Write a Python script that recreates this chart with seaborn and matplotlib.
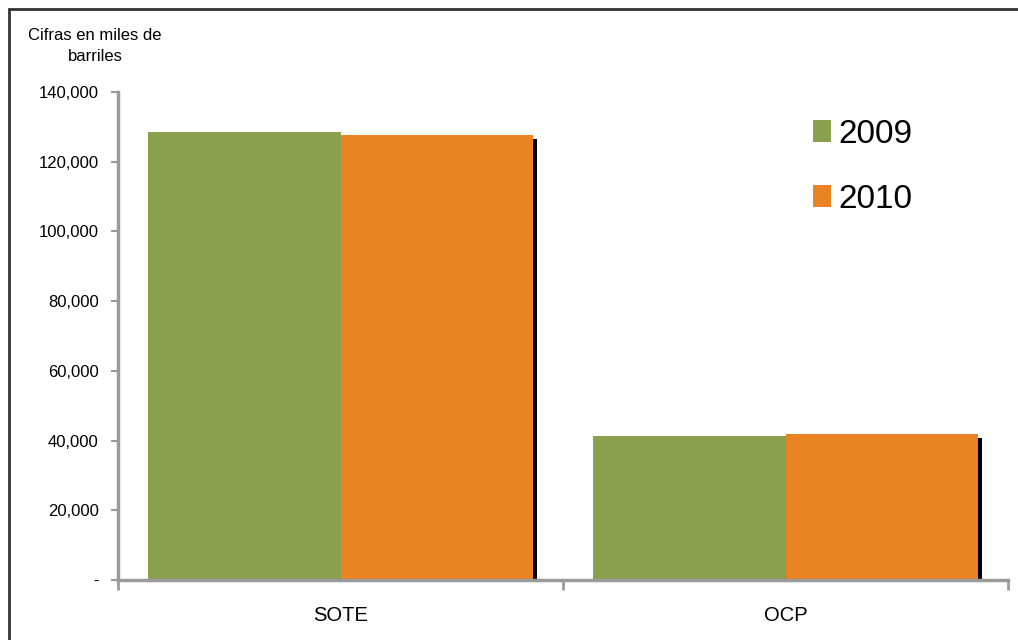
import pandas as pd
import matplotlib
matplotlib.use("Agg")
import matplotlib.pyplot as plt
import matplotlib.patheffects as pe
from matplotlib.patches import Rectangle, Patch
import seaborn as sns

# data (thousands of barrels)
pipelines = ["SOTE", "OCP"]
years = ["2009", "2010"]
values_2009 = [128500, 41300]
values_2010 = [127600, 41900]
y_ticks = [0, 20000, 40000, 60000, 80000, 100000, 120000, 140000]
y_labels = ["-", "20,000", "40,000", "60,000", "80,000", "100,000", "120,000", "140,000"]

colors = {"2009": "#8BA04D", "2010": "#EA8323"}
axis_gray = "#9A9A9A"

df = pd.DataFrame({
    "pipeline": pipelines * 2,
    "year": ["2009"] * len(pipelines) + ["2010"] * len(pipelines),
    "value": values_2009 + values_2010,
})

sns.set_style("white")
plt.rcParams["font.family"] = ["Liberation Sans", "DejaVu Sans"]
plt.rcParams["text.color"] = "black"
plt.rcParams["xtick.labelcolor"] = "black"
plt.rcParams["ytick.labelcolor"] = "black"

fig = plt.figure(figsize=(10.18, 6.40), dpi=100)
ax = fig.add_axes([118 / 1018, 1 - 580 / 640, (1008 - 118) / 1018, (580 - 92) / 640])

sns.barplot(data=df, x="pipeline", y="value", hue="year", order=pipelines,
            hue_order=years, palette=colors, width=0.865, gap=0,
            saturation=1, linewidth=0, legend=False, ax=ax)

# dark drop shadow on the 2010 bars
for bar in ax.containers[1]:
    bar.set_path_effects([pe.SimplePatchShadow(offset=(3, -3), shadow_rgbFace="black", alpha=1),
                          pe.Normal()])

ax.set_xlim(-0.5, 1.5)
ax.set_ylim(0, 140000)
ax.set_yticks(y_ticks)
ax.set_yticklabels(y_labels)
ax.set_xlabel("")
ax.set_ylabel("")

ax.set_xticks([-0.5, 0.5, 1.5], minor=True)
ax.tick_params(axis="x", which="major", length=0, labelsize=14.5, pad=19)
ax.tick_params(axis="x", which="minor", length=7, width=2, color=axis_gray, direction="out")
ax.tick_params(axis="y", length=5, width=1.5, color=axis_gray, direction="out",
               labelsize=12, pad=9)
ax.yaxis.set_ticks_position("left")
ax.xaxis.set_ticks_position("bottom")

for side in ["top", "right"]:
    ax.spines[side].set_visible(False)
for side in ["left", "bottom"]:
    ax.spines[side].set_color(axis_gray)
    ax.spines[side].set_linewidth(2.5)

handles = [Patch(facecolor=colors[y], edgecolor="none", label=y) for y in years]
ax.legend(handles=handles, loc="upper left", bbox_to_anchor=(813 / 1018, 1 - 119 / 640),
          bbox_transform=fig.transFigure, frameon=False, fontsize=24,
          handlelength=0.55, handleheight=0.65, handletextpad=0.2,
          labelspacing=1.02, borderpad=0, borderaxespad=0)

fig.text(95 / 1018, 1 - 46 / 640, "Cifras en miles de\nbarriles", ha="center", va="center",
         fontsize=12, linespacing=1.55)

# outer frame
fig.patches.append(Rectangle((9 / 1018, -0.5), 2, 1.5 - 9 / 640, transform=fig.transFigure,
                             fill=False, edgecolor="#333333", linewidth=2))

fig.savefig("out.png", dpi=100)
